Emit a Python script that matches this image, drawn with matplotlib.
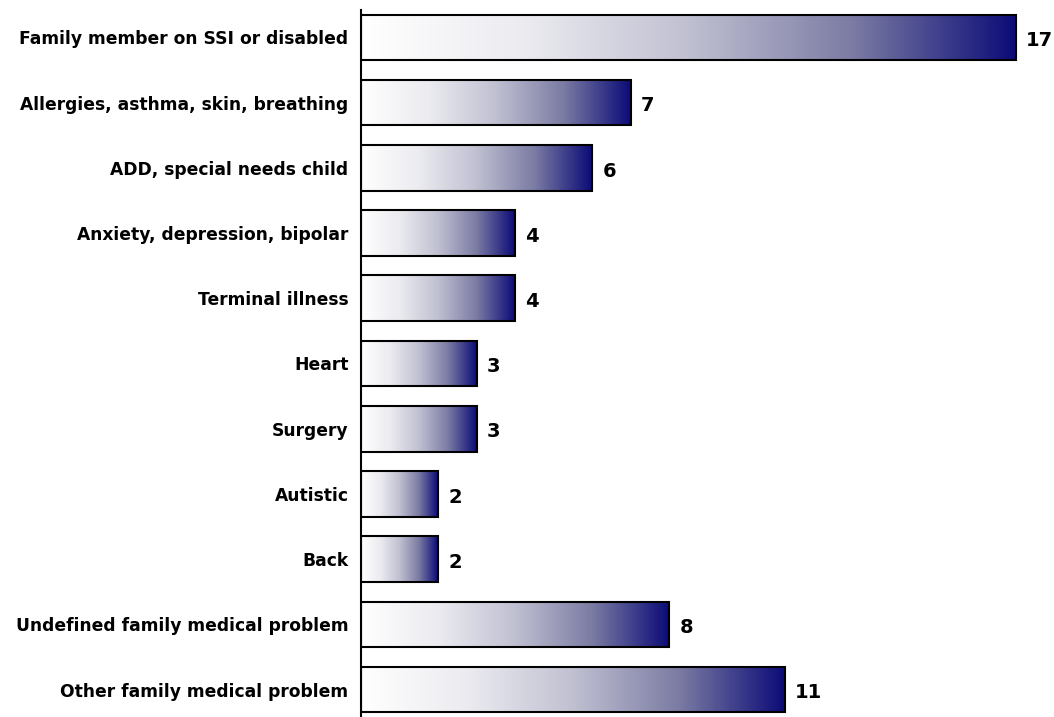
import numpy as np
import matplotlib.pyplot as plt
from matplotlib.colors import LinearSegmentedColormap

categories = [
    "Family member on SSI or disabled",
    "Allergies, asthma, skin, breathing",
    "ADD, special needs child",
    "Anxiety, depression, bipolar",
    "Terminal illness",
    "Heart",
    "Surgery",
    "Autistic",
    "Back",
    "Undefined family medical problem",
    "Other family medical problem",
]
counts = [17, 7, 6, 4, 4, 3, 3, 2, 2, 8, 11]

# white -> navy fade used inside each bar
fade = LinearSegmentedColormap.from_list(
    "fade",
    [(0.0, "#ffffff"), (0.25, "#ebebf0"), (0.5, "#c0c0d2"),
     (0.75, "#7c7ca4"), (1.0, "#0c0c78")],
)
grad = np.linspace(0, 1, 256).reshape(1, -1)

fig = plt.figure(figsize=(10.54, 7.17), dpi=100)
ax = fig.add_axes([361 / 1054, 0, 1 - 361 / 1054, 1 - 10 / 717])

bar_h = 0.7
ypos = np.arange(len(categories))
for y, v in zip(ypos, counts):
    ax.imshow(grad, cmap=fade, aspect="auto", interpolation="bilinear",
              extent=[0, v, y + bar_h / 2, y - bar_h / 2], zorder=2)
ax.barh(ypos, counts, height=bar_h, fill=False, edgecolor="black",
        linewidth=1.5, zorder=3)

for y, v in zip(ypos, counts):
    ax.text(v + 0.27, y + 0.05, str(v), ha="left", va="center",
            fontsize=14, fontweight="bold", color="black")

ax.set_xlim(0, 18)
ax.set_ylim(10.42, -0.42)
ax.set_yticks(ypos)
ax.set_yticklabels(categories, fontsize=12.3, fontweight="bold")
ax.tick_params(axis="y", length=0, pad=9)
ax.set_xticks([])
for side in ["top", "right", "bottom"]:
    ax.spines[side].set_visible(False)
ax.spines["left"].set_linewidth(1.5)

plt.savefig("out.png", dpi=100)
